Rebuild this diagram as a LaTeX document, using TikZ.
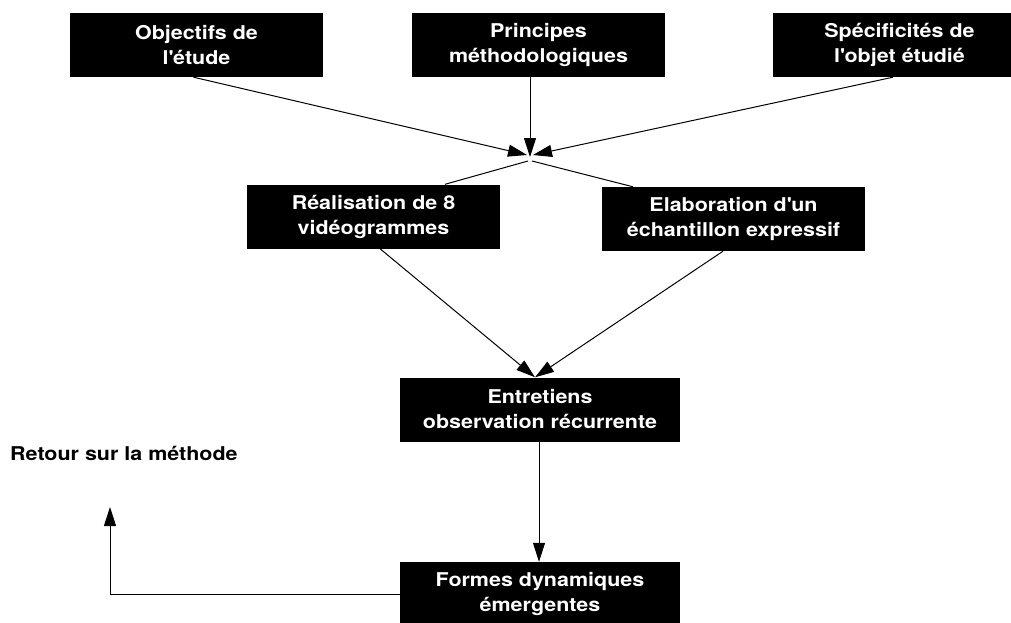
\documentclass[tikz,border=0pt]{standalone}
\usepackage{fontspec}
\setmainfont{TeX Gyre Heros}[FakeStretch=1.13]
\usetikzlibrary{arrows.meta}
\tikzset{
	etape/.style={fill=black, text=white, font=\bfseries\fontsize{19}{25}\selectfont, align=center, inner sep=0pt, minimum width=253pt, minimum height=64pt},
	fleche/.style={line width=1pt, -{Triangle[length=19pt,width=12pt]}},
	trait/.style={line width=1pt}
}

\begin{document}
\begin{tikzpicture}[x=1pt, y=-1pt]
			%%%%% START %%%%%
			
			\useasboundingbox (0, 0) rectangle (1011, 623);
			\clip (0, 0) rectangle (1011, 623);
			
			\node[etape] (objectifs) at (196.5, 45) {Objectifs de\\l\textquotesingle étude};
			\node[etape] (principes) at (538.5, 45) {Principes\\méthodologiques};
			\node[etape] (specificites) at (899.5, 45) {Spécificités de\\l\textquotesingle objet étudié};
			
			\coordinate (convergence) at (530, 155);
			\coordinate (depart) at (530, 161);
			
			\node[etape] (realisation) at (373.5, 216.5) {Réalisation de 8\\vidéogrammes};
			\node[etape, minimum width=263pt] (elaboration) at (733.5, 219) {Elaboration d\textquotesingle un\\échantillon expressif};
			
			\node[etape, minimum width=280pt] (entretiens) at (540, 409.5) {Entretiens\\observation récurrente};
			\node[etape, minimum width=280pt] (formes) at (540, 594) {Formes dynamiques\\émergentes};
			
			\node[font=\bfseries\fontsize{19}{25}\selectfont, anchor=west, inner sep=0pt] (methode) at (10, 453) {Retour sur la méthode};
			\coordinate (retour) at (110, 507);
			
			\draw[fleche] ([xshift=-3pt]objectifs.south) -- ([xshift=-3pt]convergence);
			\draw[fleche] ([xshift=-8.5pt]principes.south) -- ([yshift=-2pt]convergence);
			\draw[fleche] ([xshift=-6.5pt]specificites.south) -- ([xshift=3pt]convergence);
			
			\draw[trait] ([xshift=-2pt]depart) -- ([xshift=71.5pt]realisation.north);
			\draw[trait] ([xshift=2pt]depart) -- ([xshift=-100.5pt]elaboration.north);
			
			\draw[fleche] ([xshift=6.5pt]realisation.south) -- ([xshift=-5pt]entretiens.north);
			\draw[fleche] ([xshift=-10.5pt]elaboration.south) -- ([xshift=-5pt]entretiens.north);
			
			\draw[fleche] ([xshift=-1pt]entretiens.south) -- ([xshift=-1pt]formes.north);
			\draw[fleche] (formes.west) -| (retour);
			
			%%%%% END %%%%%
\end{tikzpicture}
\end{document}
